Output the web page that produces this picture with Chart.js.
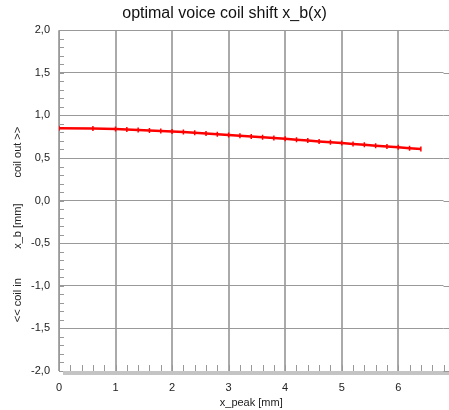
<!DOCTYPE html>
<html lang="en">
<head>
<meta charset="UTF-8" />
<title>optimal voice coil shift x_b(x)</title>
<style>
  body { margin: 0; background: #fff; }
  #wrap { width: 449px; height: 410px; }
</style>
</head>
<body>
<div id="wrap"><canvas id="chart" width="449" height="410"></canvas></div>

<script src="https://cdn.jsdelivr.net/npm/chart.js"></script>
<script>
  // data
  const xPeak = [0, 0.6, 1.0, 1.2, 1.4, 1.6, 1.8, 2.0, 2.2, 2.4, 2.6, 2.8, 3.0, 3.2, 3.4, 3.6,
                 3.8, 4.0, 4.2, 4.4, 4.6, 4.8, 5.0, 5.2, 5.4, 5.6, 5.8, 6.0, 6.2, 6.4];
  const xShift = [0.848, 0.845, 0.840, 0.835, 0.829, 0.823, 0.817, 0.811, 0.804, 0.796, 0.788, 0.779,
                  0.770, 0.761, 0.752, 0.743, 0.734, 0.725, 0.715, 0.705, 0.695, 0.685, 0.675,
                  0.665, 0.655, 0.645, 0.635, 0.625, 0.615, 0.605];
  const xTicks = [0, 1, 2, 3, 4, 5, 6];
  const yTitleParts = ['coil out >>', 'x_b [mm]', '<< coil in'];

  const points = xPeak.map((x, i) => ({ x: x, y: xShift[i] }));
  const FONT = 'Arial, "Liberation Sans", sans-serif';

  // minor ticks, bottom band and the rotated y title
  const extras = {
    id: 'extras',
    beforeDatasetsDraw(chart) {
      const { ctx, chartArea: a, scales: { x, y } } = chart;
      ctx.save();
      ctx.strokeStyle = '#999';
      ctx.lineWidth = 1;
      ctx.beginPath();
      for (let v = -20; v <= 20; v++) {
        const py = Math.round(y.getPixelForValue(v / 10)) + 0.5;
        ctx.moveTo(a.left, py);
        ctx.lineTo(a.left + 5, py);
      }
      for (let v = 1; v <= 34; v++) {
        const px = Math.round(x.getPixelForValue(v / 5)) + 0.5;
        ctx.moveTo(px, a.bottom);
        ctx.lineTo(px, a.bottom - 6);
      }
      ctx.stroke();
      ctx.fillStyle = '#c4c4c4';
      ctx.fillRect(a.left + 4, a.bottom, chart.width - a.left - 4, 4);
      // carry the horizontal grid lines to the canvas edge
      ctx.strokeStyle = '#999';
      ctx.beginPath();
      for (let v = -4; v <= 4; v++) {
        const py = Math.round(y.getPixelForValue(v / 2)) + 0.5;
        ctx.moveTo(a.right, py);
        ctx.lineTo(chart.width, py);
      }
      ctx.stroke();
      ctx.restore();
    },
    afterDraw(chart) {
      const { ctx, scales: { y } } = chart;
      const cy = y.getPixelForValue(-0.3);
      ctx.save();
      ctx.translate(18, cy);
      ctx.rotate(-Math.PI / 2);
      ctx.font = '11px ' + FONT;
      ctx.fillStyle = '#222';
      ctx.textAlign = 'center';
      ctx.textBaseline = 'middle';
      ctx.fillText(yTitleParts[0], 74, 0);
      ctx.fillText(yTitleParts[1], 0, 0);
      ctx.fillText(yTitleParts[2], -74, 0);
      ctx.restore();
    }
  };

  new Chart(document.getElementById('chart'), {
    type: 'line',
    data: {
      datasets: [{
        data: points,
        borderColor: '#ff0000',
        borderWidth: 2.5,
        pointStyle: 'line',
        rotation: 90,
        pointRadius: 2.5,
        pointBorderColor: '#ff0000',
        pointBorderWidth: 1.5,
        fill: false,
        tension: 0
      }]
    },
    options: {
      responsive: false,
      animation: false,
      layout: { padding: 0 },
      plugins: {
        legend: { display: false },
        tooltip: { enabled: false },
        title: {
          display: true,
          text: 'optimal voice coil shift x_b(x)',
          color: '#111',
          font: { family: FONT, size: 16, weight: 'normal' },
          padding: { top: 4, bottom: 7 }
        }
      },
      scales: {
        x: {
          type: 'linear',
          min: 0,
          max: 6.8,
          afterBuildTicks(s) { s.ticks = xTicks.map(v => ({ value: v })); },
          afterFit(s) { s.height = 39; },
          ticks: { color: '#222', padding: 10, font: { family: FONT, size: 11 } },
          grid: { color: '#aaa', lineWidth: 2, drawTicks: false },
          border: { display: false },
          title: { display: true, text: 'x_peak [mm]', color: '#222', padding: 0,
                   font: { family: FONT, size: 11 } }
        },
        y: {
          min: -2,
          max: 2,
          afterFit(s) { s.width = 59; },
          ticks: {
            stepSize: 0.5, color: '#222', padding: 9, font: { family: FONT, size: 11 },
            callback: v => v.toFixed(1).replace('.', ',')
          },
          grid: { color: '#999', lineWidth: 1, drawTicks: false },
          border: { color: '#999', width: 1 }
        }
      }
    },
    plugins: [extras]
  });
</script>
</body>
</html>
